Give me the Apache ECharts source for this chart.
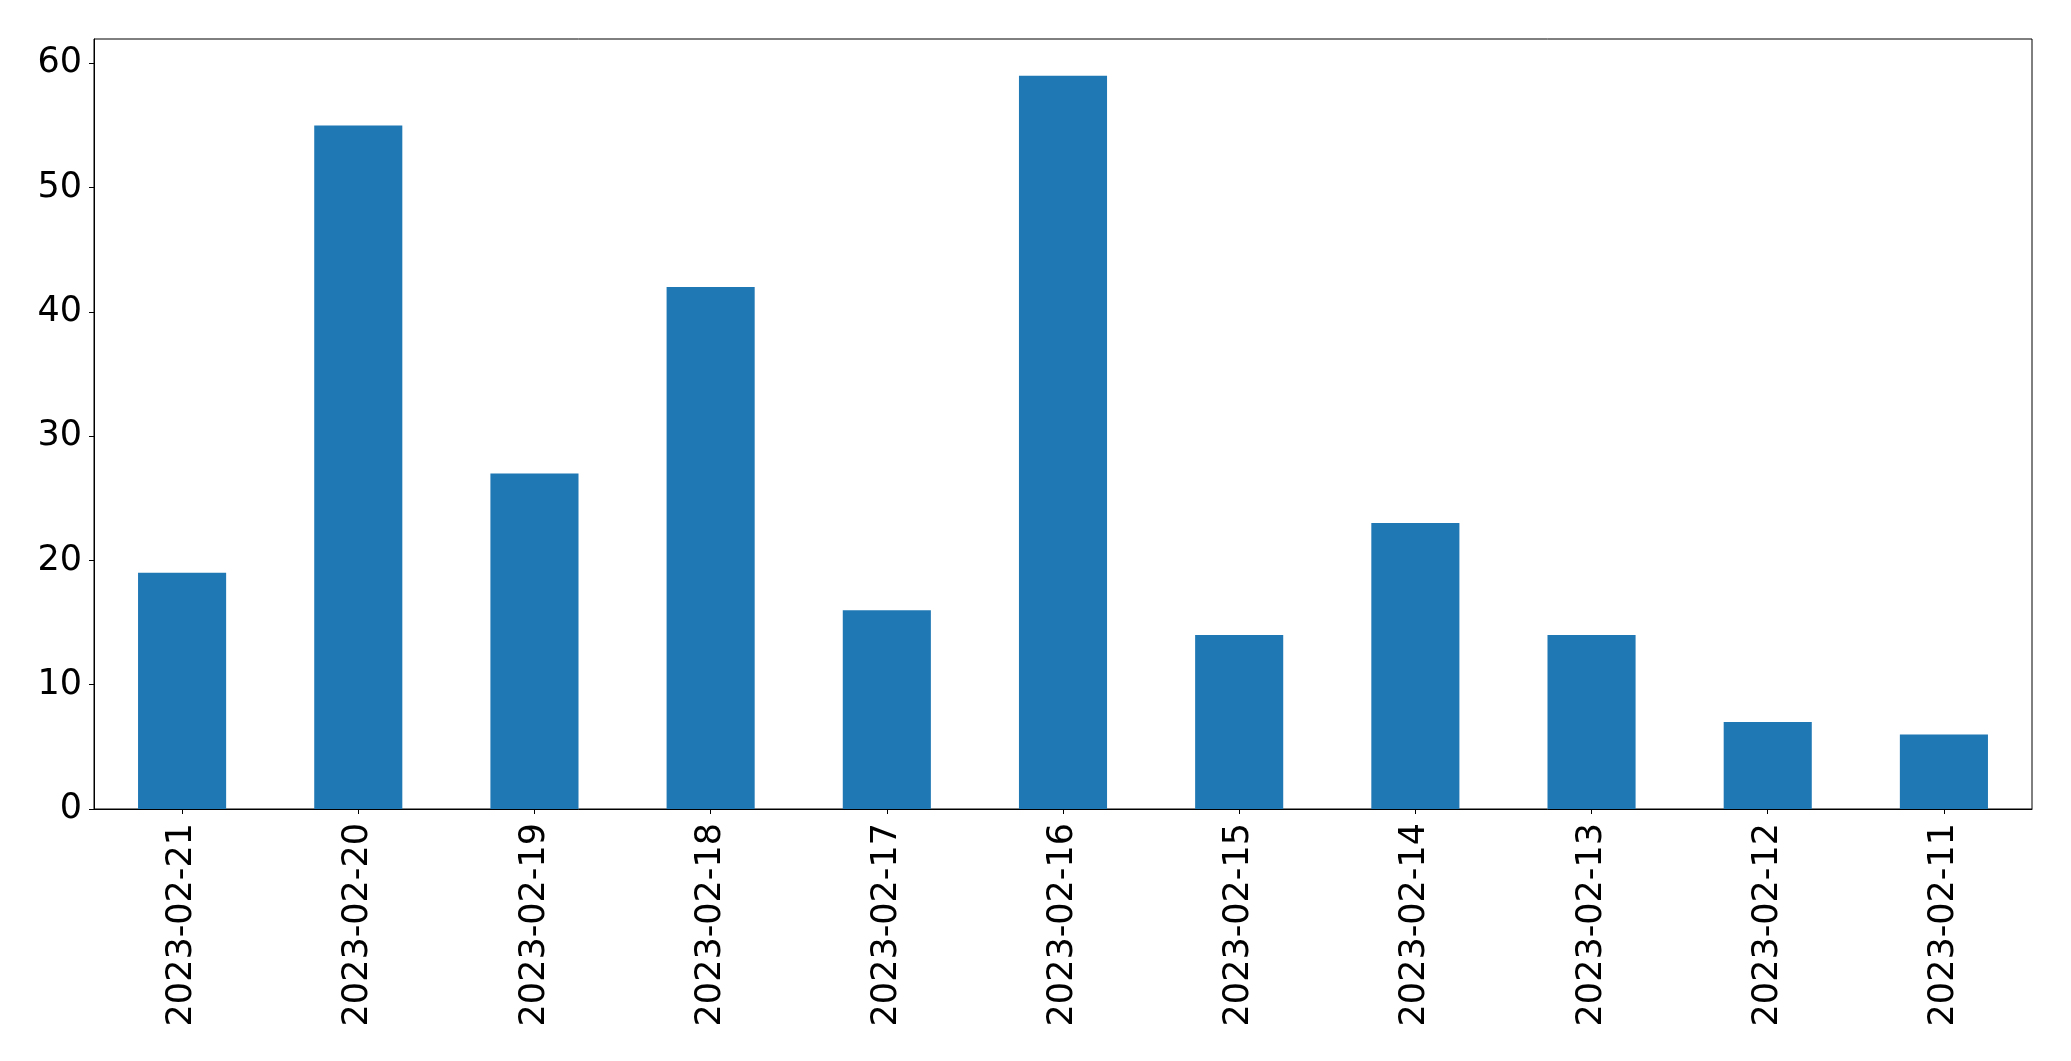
<!DOCTYPE html>
<html><head><meta charset="utf-8">
<script src="https://cdn.jsdelivr.net/npm/echarts@6/dist/echarts.min.js"></script>
<style>html,body{margin:0;padding:0;background:#fff}#c{width:2071px;height:1061px}</style>
</head><body><div id="c"></div>
<script>
const categories = ["2023-02-21","2023-02-20","2023-02-19","2023-02-18","2023-02-17","2023-02-16","2023-02-15","2023-02-14","2023-02-13","2023-02-12","2023-02-11"];
const values = [19, 55, 27, 42, 16, 59, 14, 23, 14, 7, 6];
const yTicks = [0, 10, 20, 30, 40, 50, 60];

const chart = echarts.init(document.getElementById('c'), null, {renderer: 'canvas'});
const font = 'DejaVu Sans';
chart.setOption({
  animation: false,
  backgroundColor: '#fff',
  grid: {left: 94, right: 39, top: 39, bottom: 252, show: true, borderColor: '#000', borderWidth: 1, containLabel: false},
  xAxis: {
    type: 'category', data: categories,
    axisLine: {show: true, lineStyle: {color: '#000', width: 1}},
    axisTick: {show: true, alignWithLabel: true, length: 5, lineStyle: {color: '#000'}},
    axisLabel: {rotate: 90, margin: 14, color: '#000', fontFamily: font, fontSize: 35, interval: 0},
    splitLine: {show: false}
  },
  yAxis: {
    type: 'value', min: 0, max: 61.95, interval: 10,
    axisLine: {show: true, lineStyle: {color: '#000', width: 1}},
    axisTick: {show: true, length: 5, lineStyle: {color: '#000'}},
    axisLabel: {margin: 12, color: '#000', fontFamily: font, fontSize: 35,
      formatter: v => yTicks.includes(v) ? String(v) : '', showMaxLabel: false},
    splitLine: {show: false}
  },
  series: [{
    type: 'bar', data: values, barCategoryGap: '50%',
    itemStyle: {color: '#1f77b4'}
  }]
});
</script></body></html>
